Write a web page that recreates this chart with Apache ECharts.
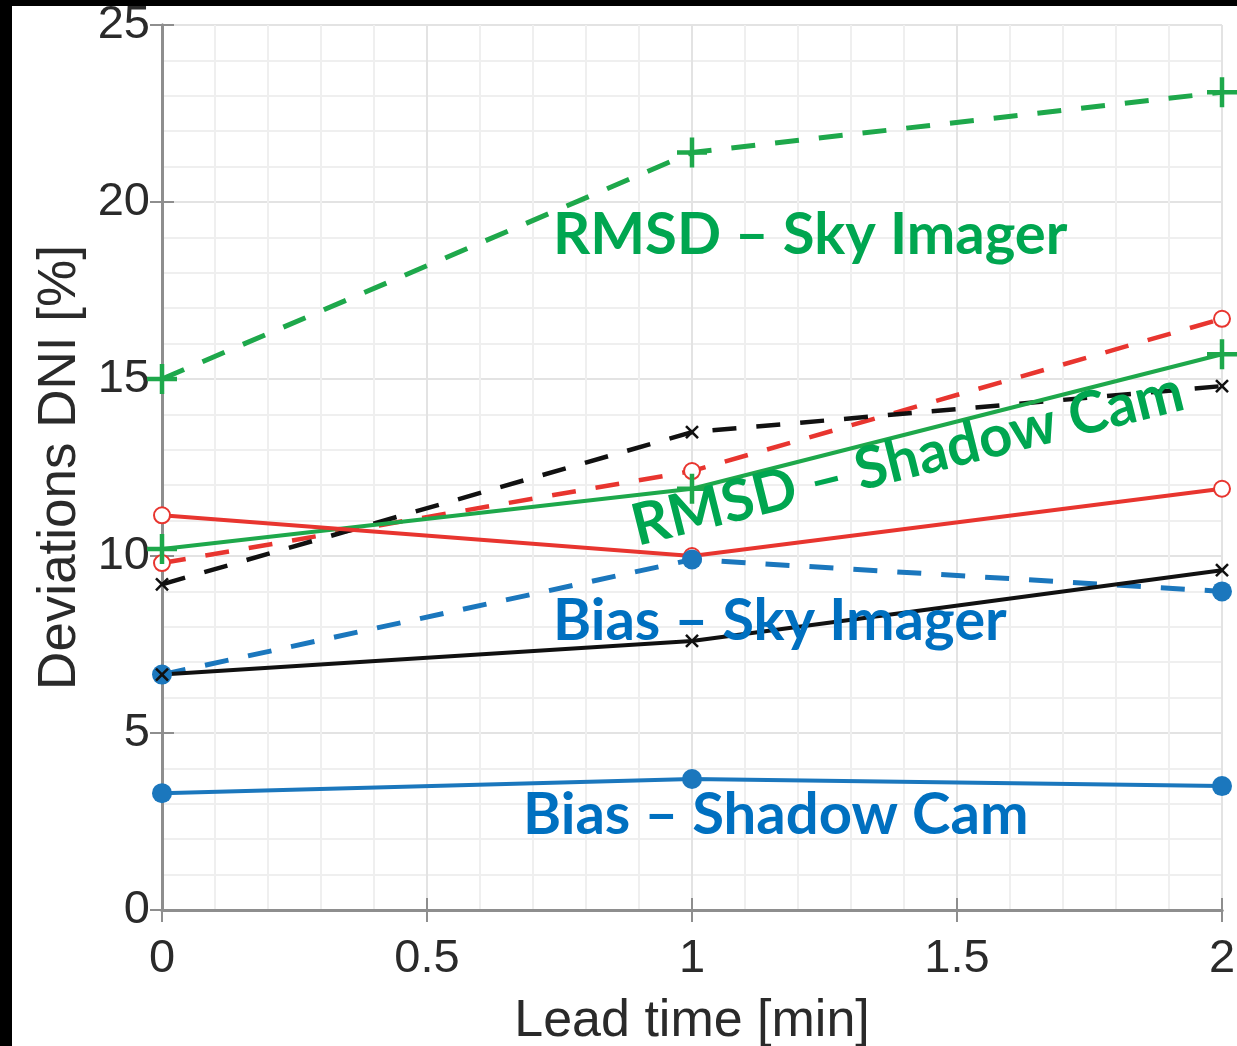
<!DOCTYPE html>
<html>
<head>
<meta charset="utf-8">
<script src="https://cdn.jsdelivr.net/npm/echarts@6/dist/echarts.min.js"></script>
<style>
  html, body { margin: 0; padding: 0; background: #fff; }
  #main { width: 1237px; height: 1046px; }
</style>
</head>
<body>
<div id="main"></div>
<script>
// lead times [min]
var leadTimes = [0, 1, 2];
// deviations DNI [%]
var rmsdSkyImager = [15.0, 21.4, 23.1];      // green dashed +
var rmsdShadowCam = [10.2, 11.9, 15.7];      // green solid +
var redDashed = [9.8, 12.4, 16.7];
var redSolid = [11.15, 10.0, 11.9];
var blackDashed = [9.2, 13.5, 14.8];
var blackSolid = [6.65, 7.6, 9.6];
var biasSkyImager = [6.65, 9.9, 9.0];        // blue dashed dot
var biasShadowCam = [3.3, 3.7, 3.5];         // blue solid dot

var xTicks = [0, 0.5, 1, 1.5, 2];
var yTicks = [0, 5, 10, 15, 20, 25];

var GREEN = '#1ea84b', RED = '#e8352f', BLUE = '#1b77bd', BLACK = '#111';
var plusPath = 'path://M-0.15,-1H0.15V-0.15H1V0.15H0.15V1H-0.15V0.15H-1V-0.15H-0.15Z';

function pts(arr) {
  return leadTimes.map(function (t, i) { return [t, arr[i]]; });
}

function line(name, data, color, dashed, symbol, size, rotate, width) {
  return {
    name: name, type: 'line', data: pts(data),
    symbol: symbol, symbolSize: size, symbolRotate: rotate || 0,
    showAllSymbol: true,
    lineStyle: { color: color, width: width, type: dashed ? [24, 20] : 'solid' },
    itemStyle: { color: color, borderColor: color, borderWidth: symbol === 'emptyCircle' ? 3.5 : 0 },
    emphasis: { disabled: true },
    z: 3
  };
}

var myChart = echarts.init(document.getElementById('main'));
var gridColor = '#e3e3e3';
var minorColor = '#efefef';
var axisGray = '#8e8e8e';
var textColor = '#2a2a2a';

myChart.setOption({
  backgroundColor: '#ffffff',
  animation: false,
  grid: { left: 162, right: 15, top: 25, bottom: 136, containLabel: false, outerBoundsMode: 'none' },
  xAxis: [{
    type: 'value', min: 0, max: 2, interval: 0.5,
    name: 'Lead time [min]', nameLocation: 'middle', nameGap: 86,
    nameTextStyle: { fontFamily: 'Liberation Sans', fontSize: 52, color: textColor },
    axisLine: { lineStyle: { color: axisGray, width: 3 } },
    axisTick: { inside: true, length: 12, lineStyle: { color: axisGray, width: 2 } },
    axisLabel: {
      fontFamily: 'Liberation Sans', fontSize: 47, color: textColor, margin: 26,
      formatter: function (v) { return xTicks.indexOf(v) >= 0 ? String(v) : ''; }
    },
    splitLine: { show: true, lineStyle: { color: gridColor, width: 2 } },
    minorTick: { show: false, splitNumber: 5 },
    minorSplitLine: { show: true, lineStyle: { color: minorColor, width: 2 } }
  }, {
    type: 'value', min: 0, max: 2, interval: 0.5, position: 'top',
    axisLine: { show: true, lineStyle: { color: axisGray, width: 3 } },
    axisTick: { inside: true, length: 12, lineStyle: { color: axisGray, width: 2 } },
    axisLabel: { show: false }, splitLine: { show: false }
  }],
  yAxis: [{
    type: 'value', min: 0, max: 25, interval: 5,
    name: 'Deviations DNI [%]', nameLocation: 'middle', nameGap: 74,
    nameTextStyle: { fontFamily: 'Liberation Sans', fontSize: 53, color: textColor },
    axisLine: { show: true, lineStyle: { color: axisGray, width: 3 } },
    axisTick: { show: true, inside: true, length: 12, lineStyle: { color: axisGray, width: 2 } },
    axisLabel: {
      fontFamily: 'Liberation Sans', fontSize: 47, color: textColor, margin: 12,
      formatter: function (v) { return yTicks.indexOf(v) >= 0 ? String(v) : ''; }
    },
    splitLine: { show: true, lineStyle: { color: gridColor, width: 2 } },
    minorTick: { show: false, splitNumber: 5 },
    minorSplitLine: { show: true, lineStyle: { color: minorColor, width: 2 } }
  }, {
    type: 'value', min: 0, max: 25, interval: 5, position: 'right',
    axisLine: { show: true, lineStyle: { color: axisGray, width: 3 } },
    axisTick: { show: true, inside: true, length: 12, lineStyle: { color: axisGray, width: 2 } },
    axisLabel: { show: false }, splitLine: { show: false }
  }],
  series: [
    line('RMSD - Sky Imager', rmsdSkyImager, GREEN, true, plusPath, 30, 0, 5),
    line('red dashed', redDashed, RED, true, 'emptyCircle', 16, 0, 4.5),
    line('black dashed', blackDashed, BLACK, true, plusPath, 17, 45, 4.5),
    line('RMSD - Shadow Cam', rmsdShadowCam, GREEN, false, plusPath, 30, 0, 4),
    line('red solid', redSolid, RED, false, 'emptyCircle', 16, 0, 4),
    line('Bias - Sky Imager', biasSkyImager, BLUE, true, 'circle', 20, 0, 5),
    line('black solid', blackSolid, BLACK, false, plusPath, 17, 45, 4),
    line('Bias - Shadow Cam', biasShadowCam, BLUE, false, 'circle', 20, 0, 4)
  ],
  graphic: [
    { type: 'rect', left: 0, top: 0, shape: { width: 1237, height: 6 }, style: { fill: '#000' }, z: 100 },
    { type: 'rect', left: 0, top: 0, shape: { width: 12, height: 1046 }, style: { fill: '#000' }, z: 100 },
    { type: 'text', left: 553, top: 206, z: 50,
      style: { text: 'RMSD – Sky Imager', fill: '#00a650', font: 'bold 58px Lato' } },
    { type: 'text', x: 640, y: 556, rotation: 14 * Math.PI / 180, z: 50,
      style: { text: 'RMSD – Shadow Cam', fill: '#00a650', font: 'bold 58px Lato', textVerticalAlign: 'bottom' } },
    { type: 'text', left: 553, top: 592, z: 50,
      style: { text: 'Bias – Sky Imager', fill: '#0070c0', font: 'bold 58px Lato' } },
    { type: 'text', left: 523, top: 786, z: 50,
      style: { text: 'Bias – Shadow Cam', fill: '#0070c0', font: 'bold 58px Lato' } }
  ]
});
</script>
</body>
</html>
